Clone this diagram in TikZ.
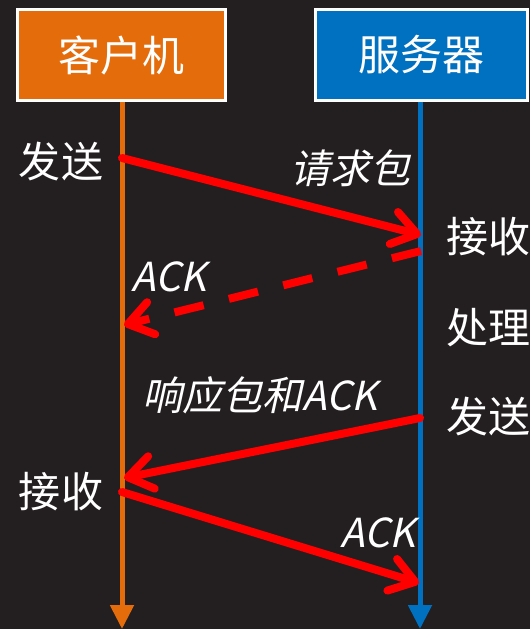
\documentclass[tikz,border=0pt]{standalone}
\usepackage{fontspec}
\setmainfont{Noto Sans CJK SC}
\newfontfamily\slantcjk[FakeSlant=0.22]{Noto Sans CJK SC}
\usetikzlibrary{arrows.meta}
\definecolor{bgdark}{RGB}{35,31,32}
\definecolor{cliorange}{RGB}{228,108,10}
\definecolor{srvblue}{RGB}{0,112,192}
\definecolor{msgred}{RGB}{255,0,0}
\tikzset{
    hostbox/.style={draw=white,line width=3pt,text=white,minimum height=91pt,inner sep=0pt,font=\fontsize{42}{50}\selectfont},
    lifeline/.style={line width=5pt,-{Triangle[length=24pt,width=23pt]}},
    msg/.style={msgred,line width=8pt,line cap=round,-{Straight Barb[length=24pt,width=33pt,round]}},
    stepname/.style={text=white,inner sep=0pt,font=\fontsize{42}{50}\selectfont},
    msgname/.style={text=white,inner sep=0pt,font=\fontsize{40}{48}\slantcjk},
}

\begin{document}
\begin{tikzpicture}[x=1pt,y=-1pt]
    %Background
    \fill[bgdark] (0,0) rectangle (530,629);
    \useasboundingbox (0,0) rectangle (530,629);
    %Client
    \node[hostbox,fill=cliorange,minimum width=208pt] (client) at (121.5,55) {客户机};
    \coordinate (clientend) at (122,629);
    \draw[lifeline,cliorange] (client.south -| clientend) -- (clientend);
    %Server
    \node[hostbox,fill=srvblue,minimum width=212pt] (server) at (421.5,55) {服务器};
    \coordinate (serverend) at (420,629);
    \draw[lifeline,srvblue] (server.south -| serverend) -- (serverend);
    %Points on the lifelines
    \coordinate (csend) at (122,158);
    \coordinate (srecv) at (421,235);
    \coordinate (sack) at (421,251);
    \coordinate (cack) at (124,325);
    \coordinate (ssend) at (420,418);
    \coordinate (crecv) at (124,478);
    \coordinate (cackout) at (122,492);
    \coordinate (sackin) at (419,583);
    %Steps
    \node[stepname] (clisend) at (61,162) {发送};
    \node[stepname] (clirecv) at (61,492) {接收};
    \node[stepname] (srvrecv) at (488,237) {接收};
    \node[stepname] (srvproc) at (488,328) {处理};
    \node[stepname] (srvsend) at (488,417) {发送};
    %Messages
    \draw[msg] (csend) -- (srecv);
    \node[msgname] (request) at (350,168) {请求包};
    \draw[msg,dash pattern=on 30pt off 26pt,line cap=butt] (sack) -- (cack);
    \node[msgname] (ackone) at (169,277) {ACK};
    \draw[msg] (ssend) -- (crecv);
    \node[msgname] (response) at (260,395) {响应包和ACK};
    \draw[msg] (cackout) -- (sackin);
    \node[msgname] (acktwo) at (378,533) {ACK};
\end{tikzpicture}
\end{document}
